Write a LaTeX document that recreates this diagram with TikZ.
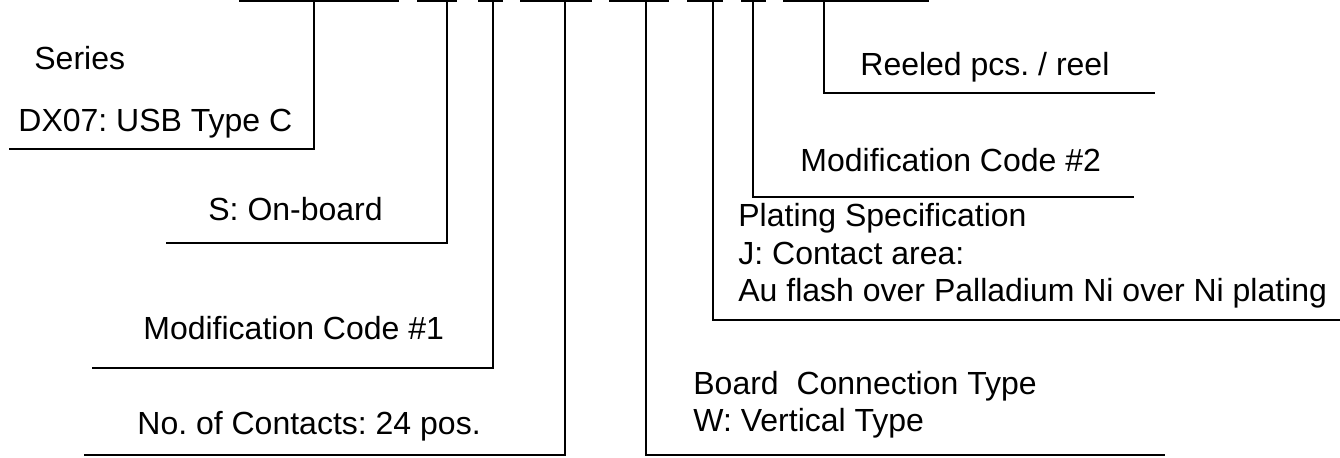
\documentclass[tikz,border=0pt]{standalone}
\usepackage{fontspec}
\setmainfont{Liberation Sans}
\frenchspacing

\begin{document}
\begin{tikzpicture}[x=0.5pt, y=-0.5pt,
	every node/.style={font=\fontsize{16}{18.75}\selectfont, inner sep=0pt, anchor=base west, align=left},
	lead/.style={line width=0.8pt},
	codebar/.style={line width=1.2pt}]
	\useasboundingbox (0,0) rectangle (1340,458);
	% segments of the part number
	\foreach \a/\b in {239/399, 417/457, 478/503, 520/592, 609/669, 687/723, 741/766, 783/929}
		\draw[codebar] (\a,1) -- (\b,1);
	% taps and free ends of the leaders
	\coordinate (tSeries) at (314,1);   \coordinate (eSeries) at (9,149);
	\coordinate (tMount) at (447,1);    \coordinate (eMount) at (166,243);
	\coordinate (tModA) at (493,1);     \coordinate (eModA) at (92,368);
	\coordinate (tPos) at (565,1);      \coordinate (ePos) at (84,455);
	\coordinate (tBoard) at (646,1);    \coordinate (eBoard) at (1165,455);
	\coordinate (tPlating) at (713,1);  \coordinate (ePlating) at (1340,320);
	\coordinate (tModB) at (753,1);     \coordinate (eModB) at (1134,197);
	\coordinate (tReel) at (824,1);     \coordinate (eReel) at (1155,93);
	% labels (base = last line)
	\node (series) at (34,70) {Series};
	\node (seriesCode) at (18,132) {DX07: USB Type C};
	\node (mount) at (208,221) {S: On-board};
	\node (modA) at (143,340) {Modification Code \#1};
	\node (pos) at (137,435) {No. of Contacts: 24 pos.};
	\node (board) at (693,432) {Board\ \ Connection Type\\W: Vertical Type};
	\node (plating) at (738,302) {Plating Specification\\J: Contact area:\\Au flash over Palladium Ni over Ni plating};
	\node (modB) at (800,172) {Modification Code \#2};
	\node (reel) at (860,76) {Reeled pcs. / reel};
	% leaders
	\draw[lead] (tSeries) |- (eSeries);
	\draw[lead] (tMount) |- (eMount);
	\draw[lead] (tModA) |- (eModA);
	\draw[lead] (tPos) |- (ePos);
	\draw[lead] (tBoard) |- (eBoard);
	\draw[lead] (tPlating) |- (ePlating);
	\draw[lead] (tModB) |- (eModB);
	\draw[lead] (tReel) |- (eReel);
\end{tikzpicture}
\end{document}
